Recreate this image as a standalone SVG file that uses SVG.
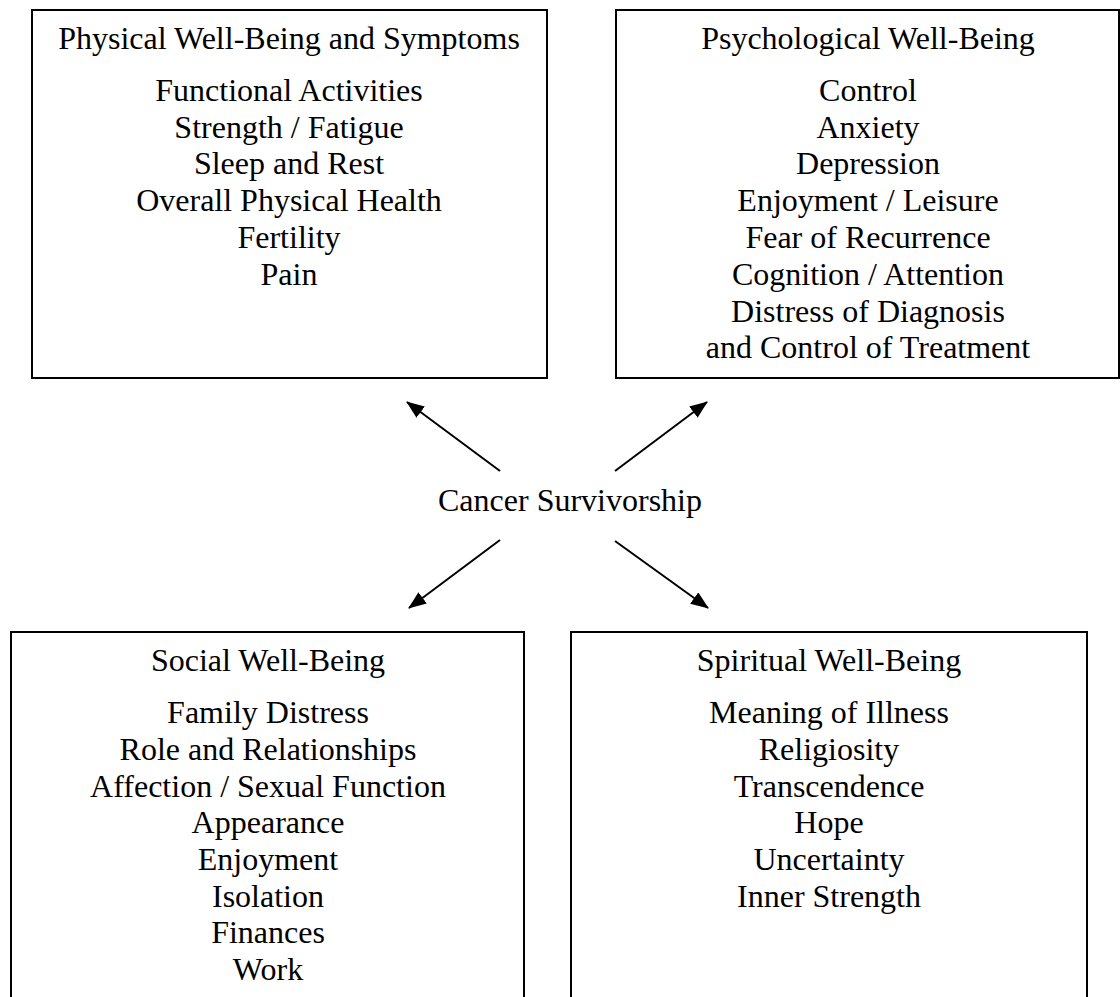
<svg xmlns="http://www.w3.org/2000/svg" width="1120" height="997" viewBox="0 0 1120 997">
<style>
.box{fill:#fff;stroke:#000;stroke-width:2}
.t{font-family:"Liberation Serif","Times New Roman",serif;font-size:32px;fill:#000;text-anchor:middle}
.c{stroke:#000;stroke-width:2;fill:none;marker-end:url(#ah)}
</style>
<defs>
<marker id="ah" markerUnits="userSpaceOnUse" markerWidth="18" markerHeight="14" refX="17" refY="7" orient="auto">
<path d="M0,0 L18,7 L0,14 Z" fill="#000"/>
</marker>
</defs>
<rect width="1120" height="997" fill="#fff"/>
<g id="physical">
<rect class="box" x="32" y="10" width="515" height="368"/>
<text class="t" x="289" y="49">Physical Well-Being and Symptoms</text>
<text class="t" x="289" y="101">Functional Activities</text>
<text class="t" x="289" y="138">Strength / Fatigue</text>
<text class="t" x="289" y="174">Sleep and Rest</text>
<text class="t" x="289" y="211">Overall Physical Health</text>
<text class="t" x="289" y="248">Fertility</text>
<text class="t" x="289" y="285">Pain</text>
</g>
<g id="psychological">
<rect class="box" x="616" y="10" width="503" height="368"/>
<text class="t" x="868" y="49">Psychological Well-Being</text>
<text class="t" x="868" y="101">Control</text>
<text class="t" x="868" y="138">Anxiety</text>
<text class="t" x="868" y="174">Depression</text>
<text class="t" x="868" y="211">Enjoyment / Leisure</text>
<text class="t" x="868" y="248">Fear of Recurrence</text>
<text class="t" x="868" y="285">Cognition / Attention</text>
<text class="t" x="868" y="322">Distress of Diagnosis</text>
<text class="t" x="868" y="358">and Control of Treatment</text>
</g>
<g id="center">
<text class="t" x="570" y="511">Cancer Survivorship</text>
</g>
<g id="social">
<rect class="box" x="11" y="632" width="513" height="380"/>
<text class="t" x="268" y="671">Social Well-Being</text>
<text class="t" x="268" y="723">Family Distress</text>
<text class="t" x="268" y="760">Role and Relationships</text>
<text class="t" x="268" y="797">Affection / Sexual Function</text>
<text class="t" x="268" y="833">Appearance</text>
<text class="t" x="268" y="870">Enjoyment</text>
<text class="t" x="268" y="907">Isolation</text>
<text class="t" x="268" y="943">Finances</text>
<text class="t" x="268" y="980">Work</text>
</g>
<g id="spiritual">
<rect class="box" x="571" y="632" width="516" height="380"/>
<text class="t" x="829" y="671">Spiritual Well-Being</text>
<text class="t" x="829" y="723">Meaning of Illness</text>
<text class="t" x="829" y="760">Religiosity</text>
<text class="t" x="829" y="797">Transcendence</text>
<text class="t" x="829" y="833">Hope</text>
<text class="t" x="829" y="870">Uncertainty</text>
<text class="t" x="829" y="907">Inner Strength</text>
</g>
<g id="connectors">
<line class="c" x1="500" y1="471" x2="407" y2="402"/>
<line class="c" x1="615" y1="471" x2="707" y2="402"/>
<line class="c" x1="500" y1="540" x2="409" y2="608"/>
<line class="c" x1="615" y1="541" x2="708" y2="608"/>
</g>
</svg>
